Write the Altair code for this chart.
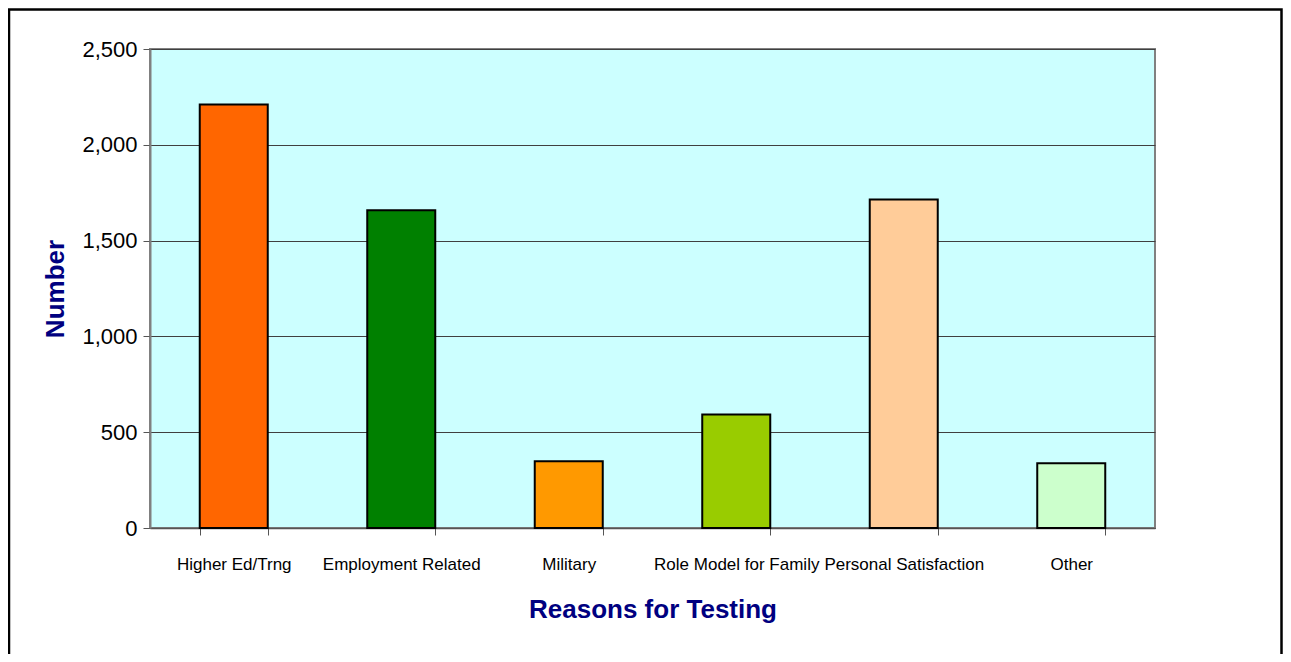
import altair as alt
import pandas as pd

categories = ["Higher Ed/Trng", "Employment Related", "Military",
              "Role Model for Family", "Personal Satisfaction", "Other"]
values = [2210, 1658, 348, 592, 1714, 338]
colors = ["#FF6600", "#008000", "#FF9900", "#99CC00", "#FFCC99", "#CCFFCC"]
y_ticks = [0, 500, 1000, 1500, 2000, 2500]

df = pd.DataFrame({"reason": categories, "number": values})

W, H = 1005, 479
PAD_L, PAD_T = 142, 41
SVG_W, SVG_H = 1275, 646

bars = alt.Chart(df).mark_bar(stroke="black", strokeWidth=2).encode(
    x=alt.X("reason:N", sort=categories,
            scale=alt.Scale(paddingInner=0.594, paddingOuter=0.297),
            axis=alt.Axis(title="Reasons for Testing", labelAngle=0,
                          tickBand="extent", tickSize=7, tickColor="#555555",
                          domainColor="#555555", domainWidth=1.5,
                          labelFont="Liberation Sans", labelFontSize=17,
                          labelColor="#000000", labelPadding=21,
                          labelLimit=400,
                          titleFont="Liberation Sans", titleFontSize=26,
                          titleFontWeight="bold", titleColor="#000080",
                          titlePadding=24, grid=False)),
    y=alt.Y("number:Q",
            scale=alt.Scale(domain=[0, 2500]),
            axis=alt.Axis(title="Number", values=y_ticks, format=",.0f",
                          tickSize=7, tickColor="#555555",
                          domainColor="#808080", domainWidth=2,
                          labelFont="Liberation Sans", labelFontSize=22,
                          labelColor="#000000", labelPadding=6,
                          titleFont="Liberation Sans", titleFontSize=26,
                          titleFontWeight="bold", titleColor="#000080",
                          titlePadding=13,
                          grid=True, gridColor="#404040", gridWidth=1)),
    color=alt.Color("reason:N", sort=categories,
                    scale=alt.Scale(domain=categories, range=colors),
                    legend=None),
)

frame = alt.Chart(alt.Data(values=[{"f": 1}])).mark_rect(
    fill=None, stroke="black", strokeWidth=2.5
).encode(
    x=alt.value(1 - PAD_L), x2=alt.value(SVG_W - 1.5 - PAD_L),
    y=alt.value(1.5 - PAD_T), y2=alt.value(SVG_H + 20),
)

chart = alt.layer(bars, frame).properties(
    width=W, height=H,
    autosize=alt.AutoSizeParams(type="none"),
    padding={"left": PAD_L, "top": PAD_T,
             "right": SVG_W - PAD_L - W, "bottom": SVG_H - PAD_T - H},
    background="white",
).configure_view(
    fill="#CCFFFF", stroke="#808080", strokeWidth=2
)

chart.save("out.html", embed_options={"renderer": "svg", "actions": False})
